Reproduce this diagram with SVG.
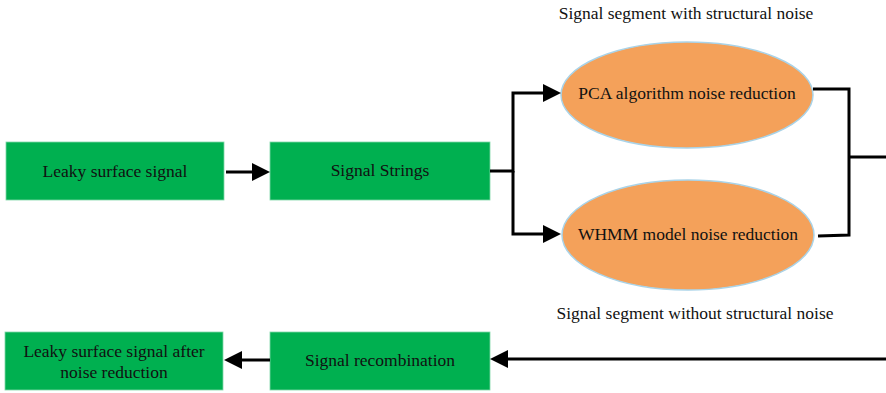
<svg xmlns="http://www.w3.org/2000/svg" width="886" height="393" viewBox="0 0 886 393">
<style>
.box{fill:#00b050;stroke:#7fd8a8;stroke-width:0.8}
.ell{fill:#f4a15a;stroke:#a9d3e8;stroke-width:1.5}
text{font-family:"Liberation Serif","Times New Roman",serif;font-size:17.5px;fill:#111;text-anchor:middle}
.lab{font-size:17.5px}
.ln{fill:none;stroke:#000;stroke-width:3}
</style>
<defs>
<marker id="ah" markerWidth="6" markerHeight="6" refX="4" refY="3" orient="auto" markerUnits="strokeWidth">
<path d="M0,0 L6,3 L0,6 Z" fill="#000"/>
</marker>
</defs>
<g id="n1"><rect class="box" x="6" y="142" width="218" height="58"/><text x="115" y="177">Leaky surface signal</text></g>
<g id="n2"><rect class="box" x="270" y="142" width="220" height="58"/><text x="380" y="176">Signal Strings</text></g>
<g id="n3"><ellipse class="ell" cx="687" cy="95" rx="126" ry="53"/><text x="687" y="99">PCA algorithm noise reduction</text></g>
<g id="n4"><ellipse class="ell" cx="688" cy="235" rx="126" ry="55"/><text x="688" y="240">WHMM model noise reduction</text></g>
<g id="n5"><rect class="box" x="270" y="332" width="220" height="58"/><text x="380" y="366">Signal recombination</text></g>
<g id="n6"><rect class="box" x="5" y="332" width="218" height="58"/><text x="114" y="357">Leaky surface signal after</text><text x="114" y="378">noise reduction</text></g>
<g id="labels"><text class="lab" x="686" y="19">Signal segment with structural noise</text><text class="lab" x="695" y="319">Signal segment without structural noise</text></g>
<g id="connectors">
<line class="ln" x1="226" y1="172" x2="264" y2="172" marker-end="url(#ah)"/>
<polyline class="ln" points="490,171 513,171 513,93 555,93" marker-end="url(#ah)"/>
<polyline class="ln" points="513,171 513,234 555,234" marker-end="url(#ah)"/>
<polyline class="ln" points="813,89 849,89 849,235 818,236"/>
<line class="ln" x1="849" y1="157" x2="886" y2="157"/>
<line class="ln" x1="886" y1="359" x2="496" y2="359" marker-end="url(#ah)"/>
<line class="ln" x1="270" y1="360" x2="230" y2="360" marker-end="url(#ah)"/>
</g>
</svg>
